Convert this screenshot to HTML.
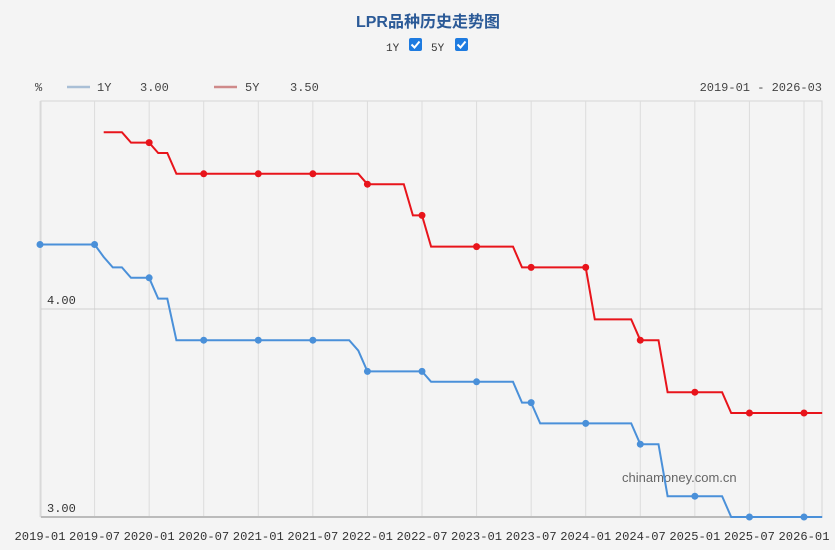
<!DOCTYPE html>
<html><head><meta charset="utf-8">
<style>
html,body{margin:0;padding:0;background:#f4f4f4;}
body{width:835px;height:545px;overflow:hidden;font-family:"Liberation Sans","Noto Sans CJK SC",sans-serif;}
svg text{font-family:"Liberation Mono","Noto Sans CJK SC",monospace;}
</style></head>
<body>
<svg id="chart" width="835" height="545" xmlns="http://www.w3.org/2000/svg">
<rect width="835" height="545" fill="#f4f4f4"/>
<text x="428" y="27" text-anchor="middle" font-size="16" font-weight="bold" fill="#2b5a97" style="font-family:'Liberation Sans','Noto Sans CJK SC',sans-serif">LPR品种历史走势图</text>
<g>
<text x="386" y="51" font-size="11" fill="#333">1Y</text>
<rect x="409" y="38" width="13" height="13" rx="2" fill="#1e7be0"/>
<path d="M411.5 44.5l3 3 5-6" stroke="#fff" stroke-width="2" fill="none"/>
<text x="431" y="51" font-size="11" fill="#333">5Y</text>
<rect x="455" y="38" width="13" height="13" rx="2" fill="#1e7be0"/>
<path d="M457.5 44.5l3 3 5-6" stroke="#fff" stroke-width="2" fill="none"/>
</g>
<text x="35" y="91" font-size="12" fill="#444">%</text>
<g>
<line x1="67" y1="87" x2="90" y2="87" stroke="#a9bfd6" stroke-width="2.5"/>
<text x="97" y="91" font-size="12" fill="#444">1Y</text>
<text x="140" y="91" font-size="12" fill="#444">3.00</text>
</g>
<g>
<line x1="214" y1="87" x2="237" y2="87" stroke="#cf8a8a" stroke-width="2.5"/>
<text x="245" y="91" font-size="12" fill="#444">5Y</text>
<text x="290" y="91" font-size="12" fill="#444">3.50</text>
</g>
<text x="822" y="91" text-anchor="end" font-size="12" fill="#444">2019-01 - 2026-03</text>
<g id="grid"></g>
<text x="622" y="482" font-size="13" fill="#666" style="font-family:'Liberation Sans',sans-serif">chinamoney.com.cn</text>
<g id="series"></g>
<g id="xlabels"></g>
</svg>
<script>
// monthly data, index 0 = 2019-01
const oneY = [4.31,4.31,4.31,4.31,4.31,4.31,4.31,4.25,4.20,4.20,4.15,4.15,4.15,4.05,4.05,
3.85,3.85,3.85,3.85,3.85,3.85,3.85,3.85,3.85,3.85,3.85,3.85,3.85,3.85,3.85,3.85,3.85,3.85,3.85,3.85,
3.80,3.70,3.70,3.70,3.70,3.70,3.70,3.70,3.65,3.65,3.65,3.65,3.65,3.65,3.65,3.65,3.65,3.65,
3.55,3.55,3.45,3.45,3.45,3.45,3.45,3.45,3.45,3.45,3.45,3.45,3.45,3.35,3.35,3.35,
3.10,3.10,3.10,3.10,3.10,3.10,3.10,3.00,3.00,3.00,3.00,3.00,3.00,3.00,3.00,3.00,3.00,3.00];
const fiveY = [null,null,null,null,null,null,null,4.85,4.85,4.85,4.80,4.80,4.80,4.75,4.75,
4.65,4.65,4.65,4.65,4.65,4.65,4.65,4.65,4.65,4.65,4.65,4.65,4.65,4.65,4.65,4.65,4.65,4.65,4.65,4.65,
4.65,4.60,4.60,4.60,4.60,4.60,4.45,4.45,4.30,4.30,4.30,4.30,4.30,4.30,4.30,4.30,4.30,4.30,
4.20,4.20,4.20,4.20,4.20,4.20,4.20,4.20,3.95,3.95,3.95,3.95,3.95,3.85,3.85,3.85,
3.60,3.60,3.60,3.60,3.60,3.60,3.60,3.50,3.50,3.50,3.50,3.50,3.50,3.50,3.50,3.50,3.50,3.50];
const xTickLabels = ["2019-01","2019-07","2020-01","2020-07","2021-01","2021-07","2022-01","2022-07","2023-01","2023-07","2024-01","2024-07","2025-01","2025-07","2026-01"];
const yTicks = [3.00,4.00];

const L=41,R=822,T=101,B=517, W0=40, W84=804;
const yMin=3.0,yMax=5.0;
const xs = i => W0 + i*(W84-W0)/84;
const ys = v => B - (v-yMin)/(yMax-yMin)*(B-T);
const NS="http://www.w3.org/2000/svg";
function mk(tag,attrs,parent){const e=document.createElementNS(NS,tag);for(const k in attrs)e.setAttribute(k,attrs[k]);parent.appendChild(e);return e;}
const grid=document.getElementById('grid'), ser=document.getElementById('series'), xl=document.getElementById('xlabels');
const border=mk('rect',{x:L,y:T,width:R-L,height:B-T,fill:'none',stroke:'#d6d6d6'},grid);


xTickLabels.forEach((lab,k)=>{
  const x=xs(k*6);
  const gl=mk('line',{x1:x,y1:T,x2:x,y2:B,stroke:'#dcdcdc'},grid);
  
  
  const t=mk('text',{x:x,y:540,'text-anchor':'middle','font-size':'12',fill:'#333',textLength:'51',lengthAdjust:'spacingAndGlyphs'},xl);
  t.textContent=lab;
  
  
});
yTicks.forEach(v=>{
  const y=ys(v);
  const gl=mk('line',{x1:L,y1:y,x2:R,y2:y,stroke:'#cfcfcf'},grid);
  
  
  const t=mk('text',{x:47,y:y-5,'font-size':'12',fill:'#333'},grid);
  t.textContent=v.toFixed(2);
  
  
});
const ax=mk('line',{x1:L,y1:B,x2:R,y2:B,stroke:'#bbb','stroke-width':2},grid);


function drawSeries(vals,color,name){
  let d='';let started=false;
  vals.forEach((v,i)=>{if(v==null)return;d+=(started?'L':'M')+xs(i).toFixed(1)+' '+ys(v).toFixed(1);started=true;});
  const p=mk('path',{d:d,fill:'none',stroke:color,'stroke-width':2},ser);
  
  
  vals.forEach((v,i)=>{
    if(v==null||i%6!==0)return;
    const c=mk('circle',{cx:xs(i),cy:ys(v),r:3.5,fill:color},ser);
    
    
  });
}
drawSeries(oneY,'#4a90d9','series-1y');
drawSeries(fiveY,'#e8141b','series-5y');
</script>
</body></html>
